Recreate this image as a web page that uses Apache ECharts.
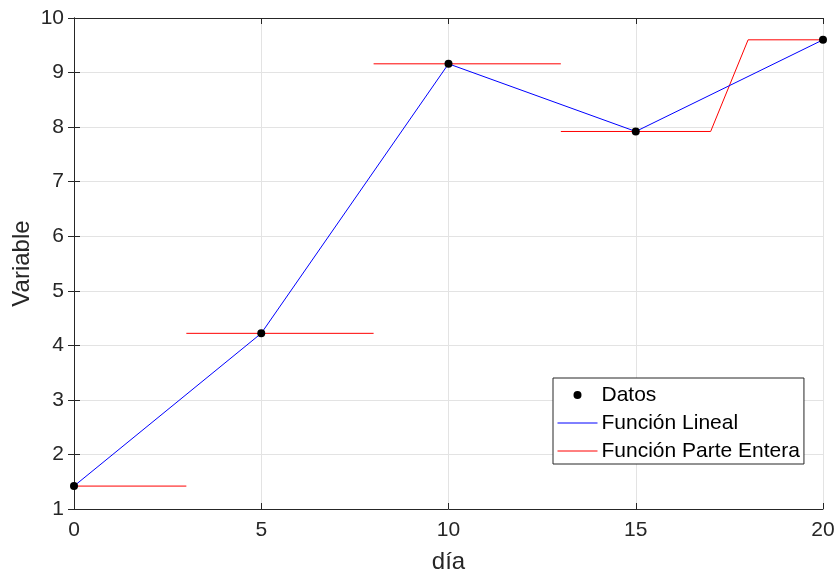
<!DOCTYPE html>
<html>
<head>
<meta charset="utf-8">
<script src="https://cdn.jsdelivr.net/npm/echarts@6/dist/echarts.min.js"></script>
<style>html,body{margin:0;padding:0;background:#fff;}#c{width:838px;height:576px;}</style>
</head>
<body>
<div id="c"></div>
<script>
const dias = [0, 5, 10, 15, 20];
const valores = [1.42, 4.22, 9.16, 7.92, 9.6];
const parteX = [0, 3, null, 3, 8, null, 8, 13, null, 13, 17, 18, 20];
const parteY = [1.42, 1.42, null, 4.22, 4.22, null, 9.16, 9.16, null, 7.92, 7.92, 9.6, 9.6];
const xTicks = [0, 5, 10, 15, 20];
const yTicks = [1, 2, 3, 4, 5, 6, 7, 8, 9, 10];
const nombres = ['Datos', 'Función Lineal', 'Función Parte Entera'];

const datos = dias.map((d, i) => [d, valores[i]]);
const parte = parteX.map((x, i) => x === null ? '-' : [x, parteY[i]]);

const FONT = '"Liberation Sans", Arial, sans-serif';
const AX = '#262626';
const chart = echarts.init(document.getElementById('c'), null, {renderer: 'canvas'});
const baseX = {
  type: 'value', min: xTicks[0], max: xTicks[xTicks.length - 1], interval: 5,
  axisLine: {show: true, lineStyle: {color: AX, width: 1}},
  axisTick: {show: true, inside: true, length: 6, lineStyle: {color: AX}},
};
const baseY = {
  type: 'value', min: yTicks[0], max: yTicks[yTicks.length - 1], interval: 1,
  axisLine: {show: true, lineStyle: {color: AX, width: 1}},
  axisTick: {show: true, inside: true, length: 6, lineStyle: {color: AX}},
};
const hidden = {color: 'rgba(0,0,0,0)', borderWidth: 0, opacity: 0};
chart.setOption({
  animation: false,
  backgroundColor: '#fff',
  grid: {left: 74, top: 18, width: 749, height: 491, containLabel: false, outerBoundsMode: 'none'},
  xAxis: [
    Object.assign({}, baseX, {
      position: 'bottom', name: 'día', nameLocation: 'middle', nameGap: 41, nameMoveOverlap: false,
      nameTextStyle: {fontFamily: FONT, fontSize: 24, color: AX},
      axisLabel: {fontFamily: FONT, fontSize: 21, color: AX, margin: 11},
      splitLine: {show: true, lineStyle: {color: '#e3e3e3', width: 1}}
    }),
    Object.assign({}, baseX, {
      position: 'top', axisLabel: {show: false}, splitLine: {show: false}
    })
  ],
  yAxis: [
    Object.assign({}, baseY, {
      position: 'left', name: 'Variable', nameLocation: 'middle', nameGap: 40, nameMoveOverlap: false,
      nameTextStyle: {fontFamily: FONT, fontSize: 24, color: AX},
      axisLabel: {fontFamily: FONT, fontSize: 21, color: AX, margin: 10},
      splitLine: {show: true, lineStyle: {color: '#e3e3e3', width: 1}}
    }),
    Object.assign({}, baseY, {
      position: 'right', axisLabel: {show: false}, splitLine: {show: false}
    })
  ],
  legend: {
    show: true, orient: 'vertical', left: 553, top: 378,
    backgroundColor: '#fff', borderColor: AX, borderWidth: 1,
    padding: [5, 4, 1, 4], itemGap: 4, itemWidth: 40, itemHeight: 8,
    textStyle: {fontFamily: FONT, fontSize: 21, color: '#000', lineHeight: 24, padding: [0, 0, 0, -1]},
    data: [
      {name: nombres[0], icon: 'circle', itemStyle: {color: '#000', opacity: 1}},
      {name: nombres[1], itemStyle: hidden, lineStyle: {color: '#0000ff', width: 1, opacity: 1}},
      {name: nombres[2], itemStyle: hidden, lineStyle: {color: '#ff0000', width: 1, opacity: 1}}
    ]
  },
  series: [
    {
      name: nombres[0], type: 'scatter', data: datos, symbol: 'circle', symbolSize: 8,
      itemStyle: {color: '#000', opacity: 1}, z: 5, xAxisIndex: 0, yAxisIndex: 0
    },
    {
      name: nombres[1], type: 'line', data: datos, symbol: 'none', showSymbol: false,
      lineStyle: {color: '#0000ff', width: 1}, itemStyle: {color: '#0000ff'}, z: 3
    },
    {
      name: nombres[2], type: 'line', data: parte, symbol: 'none', showSymbol: false,
      connectNulls: false,
      lineStyle: {color: '#ff0000', width: 1}, itemStyle: {color: '#ff0000'}, z: 2
    }
  ]
});
</script>
</body>
</html>
